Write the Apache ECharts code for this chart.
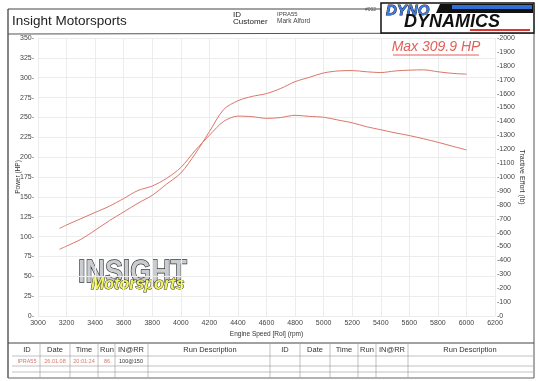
<!DOCTYPE html>
<html>
<head>
<meta charset="utf-8">
<script src="https://cdn.jsdelivr.net/npm/echarts@6/dist/echarts.min.js"></script>
<style>
html,body{margin:0;padding:0;background:#fff;}
#chart{width:538px;height:381px;}
</style>
</head>
<body>
<div id="chart"></div>
<script>
// ---- data ----
const rpm = [3150,3200,3300,3400,3500,3600,3700,3800,3900,4000,4100,4200,4300,4400,4500,4600,4700,4800,4900,5000,5100,5200,5300,5400,5500,5600,5700,5800,5900,6000];
const powerHP = [84,88,96.5,108,120,131,142,152,166,180,204,232,260,271,276.5,280,286.5,295,300.5,306,308.5,309,307.5,306.5,308.5,309.5,309.9,307.5,305.5,304.5];
const tractiveLb = [630,655,700,745,790,845,903,935,990,1068,1190,1300,1400,1438,1434,1422,1428,1444,1436,1430,1410,1390,1362,1340,1318,1298,1275,1250,1222,1195];
const xMin = 3000, xMax = 6200, xStep = 200;
const hpMin = 0, hpMax = 350, hpStep = 25;
const teMin = 0, teMax = 2000, teStep = 100;
const tableHeaders = ["ID","Date","Time","Run","IN@RR","Run Description","ID","Date","Time","Run","IN@RR","Run Description"];
const runRow = ["IPRA55","26.01.08","20:01:24","86","100@150"];

const FONT = "'Liberation Sans', Arial, sans-serif";
const curveColor = '#d9776b';

const chart = echarts.init(document.getElementById('chart'), null, {renderer:'canvas'});

// table geometry
const colX = [12,40,70,98,115,148,270,300,330,358,376,408,533];
const headCX = [27,55,84,107,131,210,285,315,344,367,392,470];
const tableLines = [];
colX.slice(1, colX.length - 1).forEach(x => {
  tableLines.push({type:'line', shape:{x1:x,y1:344,x2:x,y2:378}, style:{stroke:'#999',lineWidth:0.6}});
});
[356,366,372].forEach(y => {
  tableLines.push({type:'line', shape:{x1:12,y1:y,x2:533,y2:y}, style:{stroke:'#999',lineWidth:0.6}});
});
const tableTexts = tableHeaders.map((t,i) => ({
  type:'text', x:headCX[i], y:350,
  style:{text:t, font:'7.5px ' + FONT, fill:'#333', textAlign:'center', textVerticalAlign:'middle'}
}));
const rowColors = ['#d9776b','#d9776b','#d9776b','#d9776b','#333'];
runRow.forEach((t,i) => {
  tableTexts.push({type:'text', x:headCX[i], y:361,
    style:{text:t, font:'5.5px ' + FONT, fill:rowColors[i], textAlign:'center', textVerticalAlign:'middle'}});
});

const option = {
  backgroundColor:'#fff',
  animation:false,
  grid:{left:38, right:43, top:38, bottom:65},
  xAxis:{
    type:'value', min:xMin, max:xMax, interval:xStep,
    name:'Engine Speed [Rol] (rpm)', nameLocation:'middle', nameGap:15, nameMoveOverlap:false,
    nameTextStyle:{fontSize:6.5, color:'#333', fontFamily:FONT},
    axisLine:{show:false}, axisTick:{show:false},
    axisLabel:{fontSize:7, color:'#444', fontFamily:FONT, margin:4, formatter:v => String(v)},
    splitLine:{show:true, lineStyle:{color:'#ececec', width:1}}
  },
  yAxis:[
    {
      type:'value', min:hpMin, max:hpMax, interval:hpStep, position:'left',
      name:'Power (HP)', nameLocation:'middle', nameGap:16, nameRotate:90, nameMoveOverlap:false,
      nameTextStyle:{fontSize:6.5, color:'#333', fontFamily:FONT},
      axisLine:{show:false}, axisTick:{show:false},
      axisLabel:{fontSize:7, color:'#444', fontFamily:FONT, margin:4, formatter:v => v + '-'},
      splitLine:{show:true, lineStyle:{color:'#ececec', width:1}}
    },
    {
      type:'value', min:teMin, max:teMax, interval:teStep, position:'right',
      name:'Tractive Effort (lb)', nameLocation:'middle', nameGap:23, nameRotate:-90, nameMoveOverlap:false,
      nameTextStyle:{fontSize:7, color:'#333', fontFamily:FONT},
      axisLine:{show:false}, axisTick:{show:false},
      axisLabel:{fontSize:7, color:'#444', fontFamily:FONT, margin:2, formatter:v => '-' + v},
      splitLine:{show:false}
    }
  ],
  series:[
    {
      name:'Power', type:'line', yAxisIndex:0, smooth:0.3, showSymbol:false,
      data: rpm.map((r,i) => [r, powerHP[i]]),
      lineStyle:{color:curveColor, width:1}
    },
    {
      name:'Tractive Effort', type:'line', yAxisIndex:1, smooth:0.3, showSymbol:false,
      data: rpm.map((r,i) => [r, tractiveLb[i]]),
      lineStyle:{color:curveColor, width:1}
    }
  ],
  graphic:[
    // frame
    {type:'line', shape:{x1:8,y1:9,x2:381,y2:9}, style:{stroke:'#444',lineWidth:1}},
    {type:'line', shape:{x1:8,y1:9,x2:8,y2:378}, style:{stroke:'#333',lineWidth:1.2}},
    {type:'line', shape:{x1:534,y1:33,x2:534,y2:378}, style:{stroke:'#555',lineWidth:1}},
    {type:'line', shape:{x1:8,y1:34,x2:534,y2:33}, style:{stroke:'#555',lineWidth:1}},
    {type:'line', shape:{x1:8,y1:343,x2:534,y2:343}, style:{stroke:'#444',lineWidth:1.2}},
    {type:'line', shape:{x1:8,y1:378,x2:534,y2:378}, style:{stroke:'#666',lineWidth:1}},
    // header
    {type:'text', x:12, y:21, style:{text:'Insight Motorsports', font:'13.5px ' + FONT, fill:'#222', textVerticalAlign:'middle'}},
    {type:'text', x:233, y:15, style:{text:'ID', font:'8px ' + FONT, fill:'#222', textVerticalAlign:'middle'}},
    {type:'text', x:233, y:22, style:{text:'Customer', font:'8px ' + FONT, fill:'#222', textVerticalAlign:'middle'}},
    {type:'text', x:277, y:14, style:{text:'IPRA55', font:'6px ' + FONT, fill:'#444', textVerticalAlign:'middle'}},
    {type:'text', x:277, y:21, style:{text:'Mark Alford', font:'6.5px ' + FONT, fill:'#444', textVerticalAlign:'middle'}},
    {type:'text', x:365, y:10, style:{text:'#002', font:'5px ' + FONT, fill:'#555', textVerticalAlign:'middle'}},
    // Dyno Dynamics logo
    {type:'rect', shape:{x:381,y:3,width:153,height:30}, style:{fill:'#fff', stroke:'#111', lineWidth:1.5}},
    {type:'polygon', shape:{points:[[440,4],[533,4],[533,13],[436,13]]}, style:{fill:'#111'}},
    {type:'rect', shape:{x:452,y:5,width:80,height:4}, style:{fill:'#2f6fd6'}},
    {type:'text', x:386, y:3, style:{text:'DYNO', font:'italic 900 15px ' + FONT, fill:'#3b7be0', stroke:'#111', lineWidth:0.8}},
    {type:'text', x:404, y:13, style:{text:'DYNAMICS', font:'italic 900 18px ' + FONT, fill:'#111'}},
    {type:'rect', shape:{x:470,y:29,width:60,height:2}, style:{fill:'#d33'}},
    // max label
    {type:'text', x:436, y:47, z:100, style:{text:'Max 309.9 HP', font:'italic 14px ' + FONT, fill:'#e0605a', textAlign:'center', textVerticalAlign:'middle'}},
    {type:'line', shape:{x1:393,y1:55,x2:479,y2:55}, z:100, style:{stroke:'#e0605a', lineWidth:1}},
    // watermark logo
    {type:'text', x:78, y:257, scaleX:0.84, style:{text:'INSIGHT', font:'900 32px ' + FONT, fill:'#c9ccd1', stroke:'#333', lineWidth:1.4}},
    {type:'text', x:91, y:277, style:{text:'Motorsports', font:'italic bold 16px ' + FONT, fill:'#eef25e', stroke:'#333', lineWidth:1}}
  ].concat(tableLines, tableTexts)
};
chart.setOption(option);
</script>
</body>
</html>
